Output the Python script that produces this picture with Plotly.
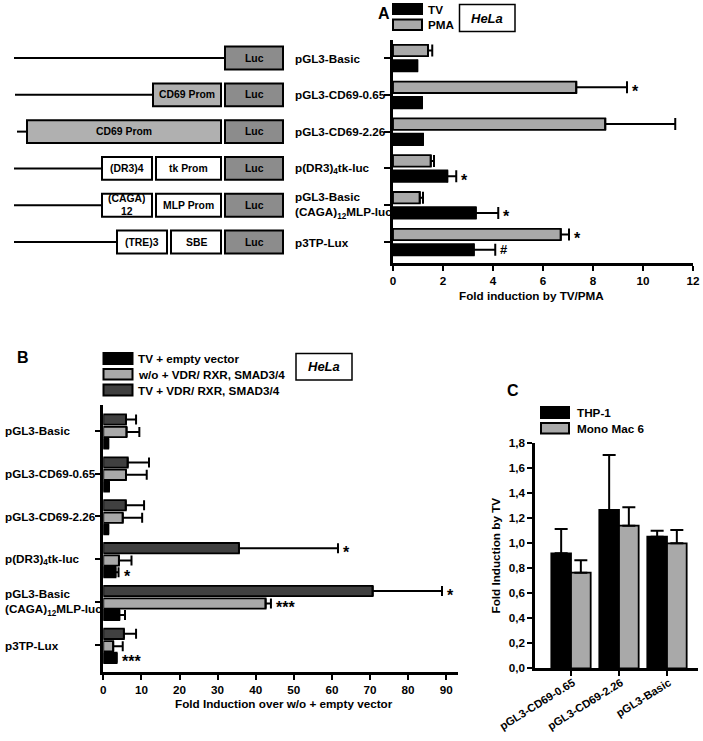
import plotly.graph_objects as go

W, H = 703, 741
FONT = "Liberation Sans, Arial, sans-serif"

# ---------------- Panel A data ----------------
a_constructs = ["pGL3-Basic", "pGL3-CD69-0.65", "pGL3-CD69-2.26",
                "p(DR3)<sub>4</sub>tk-luc", "pGL3-Basic<br>(CAGA)<sub>12</sub>MLP-luc", "p3TP-Lux"]
a_tv = [0.97, 1.16, 1.20, 2.17, 3.31, 3.23]
a_tv_err = [0, 0, 0, 0.36, 0.90, 0.86]
a_pma = [1.40, 7.33, 8.49, 1.51, 1.07, 6.71]
a_pma_err = [0.17, 2.03, 2.80, 0.13, 0.13, 0.33]
a_tv_sig = ["", "", "", "*", "*", "#"]
a_pma_sig = ["", "*", "", "", "", "*"]
a_xticks = [0, 2, 4, 6, 8, 10, 12]
a_series = ["TV", "PMA"]

# ---------------- Panel B data ----------------
b_constructs = ["pGL3-Basic", "pGL3-CD69-0.65", "pGL3-CD69-2.26",
                "p(DR3)<sub>4</sub>tk-luc", "pGL3-Basic<br>(CAGA)<sub>12</sub>MLP-luc", "p3TP-Lux"]
b_tv_empty = [1.3, 1.5, 1.3, 3.2, 4.2, 3.5]
b_tv_empty_err = [0, 0, 0, 0.8, 1.5, 0]
b_wo_vdr = [6.1, 5.95, 5.1, 4.1, 42.6, 2.6]
b_wo_vdr_err = [3.36, 5.45, 5.1, 3.3, 1.4, 2.5]
b_tv_vdr = [5.95, 6.4, 5.9, 35.6, 70.7, 5.4]
b_tv_vdr_err = [2.65, 5.6, 4.8, 26.0, 18.2, 3.2]
b_tv_empty_sig = ["", "", "", "*", "", "***"]
b_wo_vdr_sig = ["", "", "", "", "***", ""]
b_tv_vdr_sig = ["", "", "", "*", "*", ""]
b_xticks = [0, 10, 20, 30, 40, 50, 60, 70, 80, 90]
b_series = ["TV + empty vector", "w/o + VDR/ RXR, SMAD3/4", "TV + VDR/ RXR, SMAD3/4"]

# ---------------- Panel C data ----------------
c_constructs = ["pGL3-CD69-0.65", "pGL3-CD69-2.26", "pGL3-Basic"]
c_thp1 = [0.92, 1.267, 1.053]
c_thp1_err = [0.194, 0.44, 0.047]
c_mm6 = [0.765, 1.141, 1.0]
c_mm6_err = [0.10, 0.147, 0.106]
c_series = ["THP-1", "Mono Mac 6"]

BLACK = "#000000"
LIGHT = "#a9a9a9"
DARK = "#404040"
LUC = "#8c8c8c"
PROM = "#b0b0b0"


def fx(p):
    return p / W


def fy(p):
    return 1 - p / H


def bold(size, color="black"):
    return dict(family=FONT, size=size, color=color, weight="bold")


fig = go.Figure()
shapes = []
ann = []


def hbar(x, err, pos, width, color, xa, ya, capw):
    fig.add_trace(go.Bar(
        x=x, y=pos, orientation="h", width=width,
        marker=dict(color=color, line=dict(color="black", width=1.8)),
        error_x=dict(type="data", array=err, arrayminus=[0] * len(err), symmetric=False,
                     color="black", thickness=2, width=capw),
        xaxis=xa, yaxis=ya, showlegend=False, hoverinfo="skip"))


def sig_ann(vals, errs, pos, sigs, xref, yref, size=16):
    for v, e, p, s in zip(vals, errs, pos, sigs):
        if s:
            ann.append(dict(x=v + e, y=p, xref=xref, yref=yref, text=s, showarrow=False,
                            xanchor="left", yanchor="middle", xshift=3,
                            yshift=-4 if s.startswith("*") else 0,
                            font=bold(size if s.startswith("*") else 13)))


# ---------- Panel A bars ----------
n = len(a_constructs)
pos_pma = [i - 0.205 for i in range(n)]
pos_tv = [i + 0.21 for i in range(n)]
hbar(a_pma, a_pma_err, pos_pma, 0.31, LIGHT, "x", "y", 6)
hbar(a_tv, a_tv_err, pos_tv, 0.31, BLACK, "x", "y", 6)
sig_ann(a_pma, a_pma_err, pos_pma, a_pma_sig, "x", "y")
sig_ann(a_tv, a_tv_err, pos_tv, a_tv_sig, "x", "y")

# ---------- Panel B bars ----------
pos_d = [i - 0.26 for i in range(n)]
pos_l = [i + 0.03 for i in range(n)]
pos_k = [i + 0.30 for i in range(n)]
hbar(b_tv_vdr, b_tv_vdr_err, pos_d, 0.24, DARK, "x2", "y2", 5)
hbar(b_wo_vdr, b_wo_vdr_err, pos_l, 0.24, LIGHT, "x2", "y2", 5)
hbar(b_tv_empty, b_tv_empty_err, pos_k, 0.24, BLACK, "x2", "y2", 5)
sig_ann(b_tv_vdr, b_tv_vdr_err, pos_d, b_tv_vdr_sig, "x2", "y2")
sig_ann(b_wo_vdr, b_wo_vdr_err, pos_l, b_wo_vdr_sig, "x2", "y2")
sig_ann(b_tv_empty, b_tv_empty_err, pos_k, b_tv_empty_sig, "x2", "y2")

# ---------- Panel C bars ----------
m = len(c_constructs)
for vals, errs, col, off in [(c_thp1, c_thp1_err, BLACK, -0.205), (c_mm6, c_mm6_err, LIGHT, 0.205)]:
    fig.add_trace(go.Bar(
        x=[i + off for i in range(m)], y=vals, width=0.41,
        marker=dict(color=col, line=dict(color="black", width=1.8)),
        error_y=dict(type="data", array=errs, arrayminus=[0] * m, symmetric=False,
                     color="black", thickness=2, width=6.5),
        xaxis="x3", yaxis="y3", showlegend=False, hoverinfo="skip"))

# ---------- Panel A construct diagrams ----------
LUC_X = (225, 283)
rows = [
    [("line", 14, 225)],
    [("line", 15, 153), ("box", 153, 221, PROM, "CD69 Prom")],
    [("line", 17, 27), ("box", 27, 221, PROM, "CD69 Prom")],
    [("line", 14, 102), ("box", 102, 152, "white", "(DR3)4"), ("box", 156, 221, "white", "tk Prom")],
    [("line", 14, 102), ("box", 102, 152, "white", "(CAGA)<br>12"), ("box", 156, 221, "white", "MLP Prom")],
    [("line", 14, 117), ("box", 117, 167, "white", "(TRE)3"), ("box", 171, 221, "white", "SBE")],
]
for i, elems in enumerate(rows):
    elems = elems + [("box", LUC_X[0], LUC_X[1], LUC, "Luc")]
    for e in elems:
        if e[0] == "line":
            shapes.append(dict(type="line", xref="paper", yref="y", x0=fx(e[1]), x1=fx(e[2]),
                               y0=i, y1=i, line=dict(color="black", width=2)))
        else:
            _, x0, x1, col, txt = e
            shapes.append(dict(type="rect", xref="paper", yref="y", x0=fx(x0), x1=fx(x1),
                               y0=i - 0.31, y1=i + 0.31, fillcolor=col,
                               line=dict(color="black", width=2)))
            two = "<br>" in txt
            ann.append(dict(x=fx((x0 + x1) / 2), y=i, xref="paper", yref="y", text=txt,
                            showarrow=False, xanchor="center", yanchor="middle",
                            font=bold(10.4), align="center",
                            **({"height": 22, "valign": "middle"} if two else {})))
    ann.append(dict(x=fx(293), y=i, xref="paper", yref="y", text=a_constructs[i], showarrow=False,
                    xanchor="left", yanchor="middle", align="left", font=bold(11.7)))

# ---------- Panel B category labels ----------
for i, lab in enumerate(b_constructs):
    ann.append(dict(x=fx(3), y=i, xref="paper", yref="y2", text=lab, showarrow=False,
                    xanchor="left", yanchor="middle", align="left", font=bold(11.7)))


# ---------- Legends (manual) ----------
def legend_item(x0, x1, y0, y1, col, label, tx):
    shapes.append(dict(type="rect", xref="paper", yref="paper", x0=fx(x0), x1=fx(x1),
                       y0=fy(y1), y1=fy(y0), fillcolor=col, line=dict(color="black", width=2)))
    ann.append(dict(x=fx(tx), y=fy((y0 + y1) / 2), xref="paper", yref="paper", text=label,
                    showarrow=False, xanchor="left", yanchor="middle", font=bold(11.7)))


legend_item(393, 422, 4, 14, BLACK, a_series[0], 426)
legend_item(393, 422, 19.5, 30, LIGHT, a_series[1], 426)
legend_item(103.5, 132.5, 353, 364, BLACK, b_series[0], 136)
legend_item(103.5, 132.5, 369, 379.5, LIGHT, b_series[1], 136)
legend_item(103.5, 132.5, 384.5, 395.5, DARK, b_series[2], 136)
legend_item(541, 569, 407, 418, BLACK, c_series[0], 575)
legend_item(541, 569, 423, 433.5, LIGHT, c_series[1], 575)


# HeLa boxes
def hela(x0, x1, y0, y1):
    shapes.append(dict(type="rect", xref="paper", yref="paper", x0=fx(x0), x1=fx(x1),
                       y0=fy(y1), y1=fy(y0), fillcolor="white", line=dict(color="black", width=1.5)))
    ann.append(dict(x=fx((x0 + x1) / 2), y=fy((y0 + y1) / 2), xref="paper", yref="paper",
                    text="<i>HeLa</i>", showarrow=False, xanchor="center", yanchor="middle",
                    font=bold(13)))


hela(459.5, 515, 4.5, 31.5)
hela(296, 352, 353.5, 380)

# Panel letters
for txt, x, y in [("A", 384, 13), ("B", 23, 357), ("C", 513, 390)]:
    ann.append(dict(x=fx(x), y=fy(y), xref="paper", yref="paper", text=txt, showarrow=False,
                    xanchor="center", yanchor="middle", font=bold(16)))

# Axis titles
ann.append(dict(x=fx(531), y=fy(295), xref="paper", yref="paper", text="Fold induction by TV/PMA",
                showarrow=False, xanchor="center", yanchor="middle", font=bold(11.7)))
ann.append(dict(x=fx(284), y=fy(703), xref="paper", yref="paper",
                text="Fold Induction over w/o + empty vector",
                showarrow=False, xanchor="center", yanchor="middle", font=bold(11.7)))
ann.append(dict(x=fx(495), y=fy(555.5), xref="paper", yref="paper", text="Fold Induction by TV",
                showarrow=False, xanchor="center", yanchor="middle", textangle=-90, font=bold(11.7)))

axis_common = dict(showline=True, linecolor="black", linewidth=2.5, showgrid=False, zeroline=False,
                   ticks="outside", tickcolor="black", tickwidth=2, tickfont=bold(11.7),
                   fixedrange=True, automargin=False)

fig.update_layout(
    template="none",
    width=W, height=H, margin=dict(l=0, r=0, t=0, b=0, pad=0, autoexpand=False),
    paper_bgcolor="white", plot_bgcolor="rgba(0,0,0,0)",
    barmode="overlay", separators=",.", showlegend=False,
    font=dict(family=FONT, color="black"),
    xaxis=dict(axis_common, domain=[fx(393), fx(693)], range=[0, 12], tickvals=a_xticks,
               ticklen=5, anchor="y"),
    yaxis=dict(axis_common, domain=[fy(263), fy(40)], range=[5.57, -0.49],
               tickvals=list(range(n)), showticklabels=False, ticklen=6, anchor="x"),
    xaxis2=dict(axis_common, domain=[fx(103.3), fx(458)], range=[0, 93.1], tickvals=b_xticks,
                ticklen=5, anchor="y2"),
    yaxis2=dict(axis_common, domain=[fy(672), fy(405)], range=[5.63, -0.6],
                tickvals=list(range(n)), showticklabels=False, ticklen=6, anchor="x2"),
    xaxis3=dict(axis_common, domain=[fx(535), fx(698)], range=[-0.75, 2.646],
                tickvals=list(range(m)), ticktext=c_constructs, tickangle=-32, ticklen=5,
                ticklabelstandoff=-4, ticklabelshift=2,
                tickfont=bold(11.2), anchor="y3"),
    yaxis3=dict(axis_common, domain=[fy(668.3), fy(443.3)], range=[0, 1.8], dtick=0.2,
                tick0=0, tickformat=".1f", ticklen=5, anchor="x3"),
    shapes=shapes, annotations=ann,
)

fig.write_html("out.html", config={"displayModeBar": False},
               post_script="document.body.style.margin='0';document.body.style.padding='0';"
                           "document.body.style.overflow='hidden';")
